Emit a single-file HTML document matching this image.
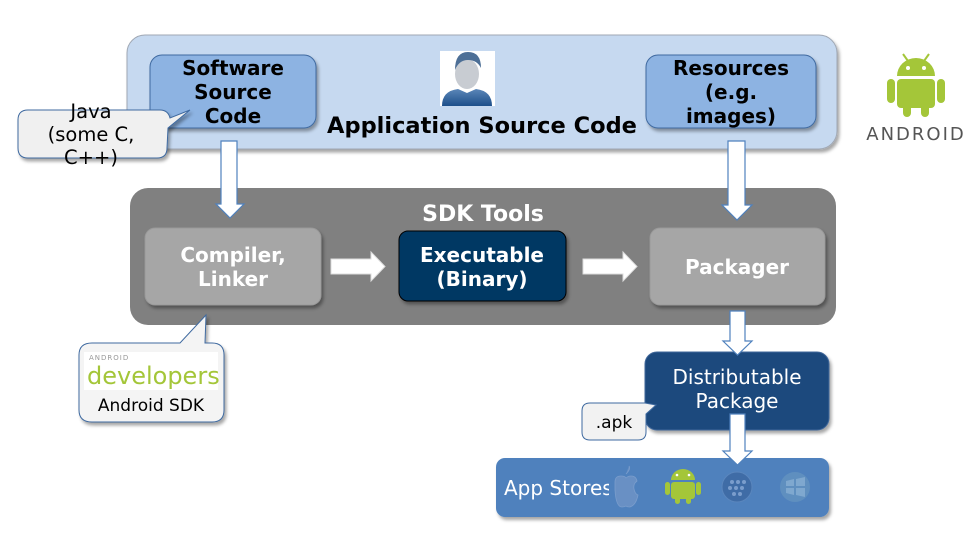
<!DOCTYPE html>
<html><head><meta charset="utf-8"><style>
body{margin:0;background:#fff}
svg{display:block}
text{font-family:"DejaVu Sans","Liberation Sans",sans-serif}
</style></head><body>
<svg width="976" height="533" viewBox="0 0 976 533">
<defs>
<filter id="sh" x="-10%" y="-10%" width="130%" height="130%"><feDropShadow dx="2" dy="3" stdDeviation="1.5" flood-color="#000" flood-opacity="0.35"/></filter>
<linearGradient id="pg" x1="0" y1="0" x2="0" y2="1"><stop offset="0" stop-color="#5b86b8"/><stop offset="1" stop-color="#1d4f8a"/></linearGradient>
</defs>
<rect x="127" y="35" width="710" height="114" rx="18" fill="#c6d9f0" stroke="#a0a8b4" filter="url(#sh)"/>
<rect x="150" y="55" width="166" height="73" rx="12" fill="#8db3e2" stroke="#3f6aa0" filter="url(#sh)"/>
<g font-weight="bold" font-size="20" text-anchor="middle" fill="#000">
<text x="233" y="75">Software</text><text x="233" y="99">Source</text><text x="233" y="123">Code</text>
</g>
<rect x="646" y="55" width="170" height="73" rx="12" fill="#8db3e2" stroke="#3f6aa0" filter="url(#sh)"/>
<g font-weight="bold" font-size="20" text-anchor="middle" fill="#000">
<text x="731" y="75">Resources</text><text x="731" y="99">(e.g.</text><text x="731" y="123">images)</text>
</g>
<rect x="440" y="51" width="55" height="55" fill="#fff"/>
<ellipse cx="467" cy="74" rx="12" ry="15" fill="#c8ccd2"/>
<path d="M455,70 q0,-18 13,-18 q13,0 13,16 q-4,-8 -13,-8 q-9,0 -13,10z" fill="#4d6f96"/>
<path d="M442,106 q0,-15 16,-17 l9,4 l9,-4 q16,2 16,17z" fill="url(#pg)"/>
<text x="482" y="133" font-weight="bold" font-size="22.5" text-anchor="middle">Application Source Code</text>
<path d="M28,110 L160,110 Q168,110 170,118 L190,110 L168,128 L167,148 Q167,158 157,158 L28,158 Q18,158 18,148 L18,120 Q18,110 28,110z" fill="#f0f0f0" stroke="#3f6aa0" filter="url(#sh)"/>
<g font-size="19.5" text-anchor="middle"><text x="91" y="118">Java</text><text x="91" y="141">(some C,</text><text x="91" y="164">C++)</text></g>
<rect x="130" y="188" width="706" height="137" rx="18" fill="#808080"/>
<text x="483" y="221" font-weight="bold" font-size="22" fill="#fff" text-anchor="middle">SDK Tools</text>
<rect x="145" y="228" width="176" height="77" rx="10" fill="#a6a6a6" stroke="#999" filter="url(#sh)"/>
<g font-weight="bold" font-size="20" fill="#fff" text-anchor="middle"><text x="233" y="262">Compiler,</text><text x="233" y="286">Linker</text></g>
<rect x="399" y="231" width="167" height="70" rx="9" fill="#003764" stroke="#000" filter="url(#sh)"/>
<g font-weight="bold" font-size="20" fill="#fff" text-anchor="middle"><text x="482" y="262">Executable</text><text x="482" y="286">(Binary)</text></g>
<rect x="650" y="228" width="175" height="77" rx="10" fill="#a6a6a6" stroke="#999" filter="url(#sh)"/>
<text x="737" y="274" font-weight="bold" font-size="20" fill="#fff" text-anchor="middle">Packager</text>
<path d="M331,259 h40 v-7 l14,14.5 l-14,14.5 v-7 h-40z" fill="#fff" stroke="#ddd"/>
<path d="M583,259 h40 v-7 l14,14.5 l-14,14.5 v-7 h-40z" fill="#fff" stroke="#ddd"/>
<g fill="#fff" stroke="#4f81bd" stroke-width="1.2">
<path d="M221,141 h16 v63 h7 l-14,14 l-14,-14 h5z"/>
<path d="M728,141 h17 v64 h7 l-15,15 l-15,-15 h6z"/>
</g>
<path d="M92,343 L180,343 L206,315 L205,343 L212,343 Q224,343 224,355 L224,410 Q224,422 212,422 L92,422 Q79,422 79,410 L79,355 Q79,343 92,343z" fill="#f4f4f4" stroke="#3f6aa0" filter="url(#sh)"/>
<rect x="84" y="352" width="134" height="38" fill="#fff"/>
<text x="89" y="360" font-size="7" fill="#999" letter-spacing="1">ANDROID</text>
<text x="87" y="384" font-size="24" fill="#a4c639">developers</text>
<text x="151" y="411" font-size="17" text-anchor="middle">Android SDK</text>
<rect x="645" y="352" width="184" height="78" rx="12" fill="#1f497d" stroke="#40679a" filter="url(#sh)"/>
<g font-size="20" fill="#fff" text-anchor="middle"><text x="737" y="384">Distributable</text><text x="737" y="408">Package</text></g>
<g fill="#fff" stroke="#4f81bd" stroke-width="1.2">
<path d="M730,311 h15 v30 h7 l-14.5,14 l-14.5,-14 h7z"/>
</g>
<path d="M590,403 L645,403 L656,405 L646,414 L646,432 Q646,440 638,440 L590,440 Q582,440 582,432 L582,411 Q582,403 590,403z" fill="#f2f2f2" stroke="#3f6aa0"/>
<text x="614" y="428" font-size="17" text-anchor="middle">.apk</text>
<rect x="496" y="458" width="333" height="59" rx="9" fill="#4f81bd" filter="url(#sh)"/>
<g fill="#fff" stroke="#4f81bd" stroke-width="1.2">
<path d="M730,414 h15 v37 h7 l-14.5,14 l-14.5,-14 h7z"/>
</g>
<text x="504" y="495" font-size="20" fill="#fff">App Stores</text>
<rect x="609" y="466" width="40" height="40" fill="#4f81bd"/>
<path d="M626,474 q5,-5 3,-8 M615,482 q0,-6 6,-6 q4,0 5,2 q2,-2 5,-2 q5,0 6,5 q-4,3 -3,8 q1,5 4,6 q-2,10 -8,12 q-3,0 -4,-1 q-2,1 -4,1 q-6,0 -7,-17z" fill="#6990c4" stroke="#7a9dcc" stroke-width="0.8"/>
<g fill="#a4c639">
<path d="M671,480 a12,11 0 0 1 24,0z"/>
<rect x="671" y="482" width="24" height="17" rx="3"/>
<rect x="665" y="482" width="5" height="13" rx="2.5"/><rect x="696" y="482" width="5" height="13" rx="2.5"/>
<rect x="675" y="495" width="5" height="9" rx="2.5"/><rect x="686" y="495" width="5" height="9" rx="2.5"/>
</g>
<circle cx="677" cy="475" r="1.3" fill="#fff"/><circle cx="689" cy="475" r="1.3" fill="#fff"/>
<circle cx="737" cy="487" r="15" fill="#3f6ca6" stroke="#5a86bd"/>
<g fill="#7a9dcc"><circle cx="732" cy="482" r="2"/><circle cx="738" cy="482" r="2"/><circle cx="744" cy="482" r="2"/><circle cx="730" cy="488" r="2"/><circle cx="736" cy="488" r="2"/><circle cx="742" cy="488" r="2"/><circle cx="734" cy="494" r="2"/><circle cx="740" cy="494" r="2"/></g>
<circle cx="795" cy="487" r="15" fill="#5f8fbf"/>
<path d="M786,481 l8,-2 v7 h-8z M796,479 l9,-2 v9 h-9z M786,488 h8 v7 l-8,-2z M796,488 h9 v9 l-9,-2z" fill="#7fa8cf"/>
<g fill="#a4c639">
<path d="M897,76 a19,18 0 0 1 38,0z"/>
<line x1="903" y1="54" x2="908" y2="61" stroke="#a4c639" stroke-width="2"/>
<line x1="929" y1="54" x2="924" y2="61" stroke="#a4c639" stroke-width="2"/>
<rect x="897" y="79" width="38" height="29" rx="4"/>
<rect x="887" y="79" width="8" height="24" rx="4"/><rect x="937" y="79" width="8" height="24" rx="4"/>
<rect x="903" y="100" width="8" height="17" rx="4"/><rect x="921" y="100" width="8" height="17" rx="4"/>
</g>
<circle cx="908" cy="68" r="2" fill="#fff"/><circle cx="924" cy="68" r="2" fill="#fff"/>
<text x="916" y="140" font-size="18" fill="#555" text-anchor="middle" letter-spacing="2">ANDROID</text>
</svg>
</body></html>
